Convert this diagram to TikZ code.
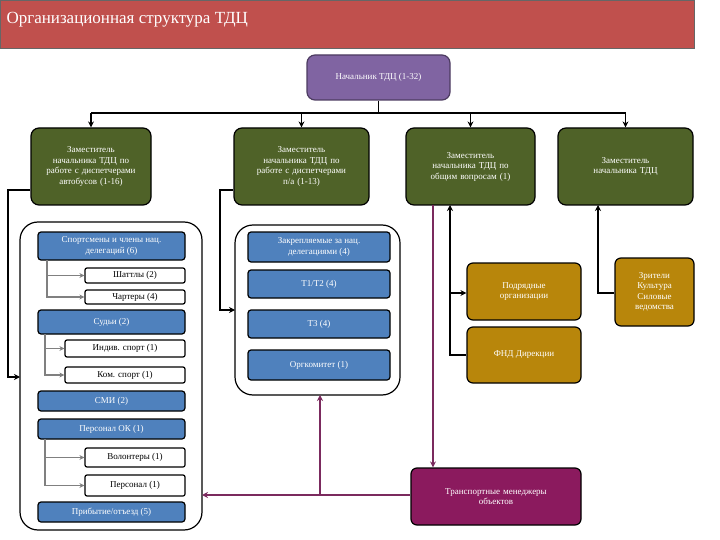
\documentclass[tikz,border=0pt]{standalone}
\usepackage{fontspec}
\setmainfont{Liberation Serif}
\usetikzlibrary{arrows.meta}
\definecolor{titl}{HTML}{C0504D}
\definecolor{boss}{HTML}{8064A2}
\definecolor{grn}{HTML}{4F6228}
\definecolor{blu}{HTML}{4F81BD}
\definecolor{gld}{HTML}{B8860B}
\definecolor{mag}{HTML}{8B1A5E}
\definecolor{plin}{HTML}{7B2A5E}
\begin{document}
\begin{tikzpicture}[x=1pt,y=-1pt,
 bx/.style={draw=black,line width=1.2pt,rounded corners=5pt,text=white,align=center,font=\fontsize{9}{10.5}\selectfont,inner sep=1pt},
 gb/.style={bx,fill=grn,rounded corners=8pt},
 bl/.style={bx,fill=blu,rounded corners=3pt},
 wh/.style={bx,fill=white,text=black,rounded corners=2pt},
 gd/.style={bx,fill=gld,rounded corners=6pt},
 cont/.style={draw=black,line width=1.2pt,rounded corners=18pt},
 ar/.style={line width=1.5pt,-{Stealth[length=6pt,width=6pt]}},
 gr/.style={draw=gray,line width=1.3pt,-{Stealth[length=5pt,width=5pt]}},
 pr/.style={draw=plin,line width=1.5pt,-{Stealth[length=6pt,width=6pt]}}]
\useasboundingbox (0,0) rectangle (720,540);
\fill[white] (0,0) rectangle (720,540);
\node[draw=black!60,fill=titl,minimum width=694pt,minimum height=48pt,anchor=north west,inner sep=0pt] (title) at (0,0) {};
\node[anchor=west,text=white,font=\fontsize{17}{20}\selectfont] (tt) at (3,20) {Организационная структура ТДЦ};
\node[bx,fill=boss,draw=boss!60!black,minimum width=143pt,minimum height=45pt,rounded corners=8pt] (boss) at (378.5,77.5) {Начальник ТДЦ (1-32)};
\node[gb,text width=118pt,minimum height=77pt] (g1) at (91,166.5) {Заместитель\\начальника ТДЦ по\\работе с диспетчерами\\автобусов (1-16)};
\node[gb,text width=133pt,minimum height=77pt] (g2) at (301.5,166.5) {Заместитель\\начальника ТДЦ по\\работе с диспетчерами\\п/а (1-13)};
\node[gb,text width=127pt,minimum height=77pt] (g3) at (470.5,166.5) {Заместитель\\начальника ТДЦ по\\общим вопросам (1)};
\node[gb,text width=133pt,minimum height=77pt] (g4) at (625.5,166.5) {Заместитель\\начальника ТДЦ};
\coordinate (top) at (378.5,113);
\draw[line width=1.5pt] (boss.south) -- (top);
\draw[line width=1.5pt] (91,113) -- (626,113);
\foreach \x/\n in {91/g1,301.5/g2,470.5/g3,625.5/g4}{\draw[ar] (\x,113) -- (\n.north -| \x,0);}
% containers
\draw[cont] (20,222) rectangle (202,530);
\draw[cont] (235,225) rectangle (400,395);
\coordinate (lc) at (20,377);
\coordinate (mc) at (235,310);
\draw[ar] (g1.west |- 0,190) -| (8,377) -- (lc);
\draw[ar] (g2.west |- 0,190) -| (220,310) -- (mc);
% left items
\node[bl,minimum width=147pt,minimum height=28pt] (s1) at (111.5,246) {Спортсмены и члены нац.\\делегаций (6)};
\node[wh,minimum width=100pt,minimum height=15pt] (w1) at (135,275.5) {Шаттлы (2)};
\node[wh,minimum width=100pt,minimum height=14pt] (w2) at (135,297) {Чартеры (4)};
\node[bl,minimum width=147pt,minimum height=24pt] (s2) at (111.5,322) {Судьи (2)};
\node[wh,minimum width=120pt,minimum height=17pt] (w3) at (125,348.5) {Индив. спорт (1)};
\node[wh,minimum width=120pt,minimum height=16pt] (w4) at (125,375) {Ком. спорт (1)};
\node[bl,minimum width=147pt,minimum height=20pt] (s3) at (111.5,401) {СМИ (2)};
\node[bl,minimum width=147pt,minimum height=20pt] (s4) at (111.5,429) {Персонал ОК (1)};
\node[wh,minimum width=100pt,minimum height=19pt] (w5) at (135,457.5) {Волонтеры (1)};
\node[wh,minimum width=100pt,minimum height=21pt] (w6) at (135,485.5) {Персонал (1)};
\node[bl,minimum width=147pt,minimum height=20pt] (s5) at (111.5,512) {Прибытие/отъезд (5)};
\draw[gr] (47,260) |- (w1.west);
\draw[gr] (47,260) |- (w2.west);
\draw[gr] (45,334) |- (w3.west);
\draw[gr] (45,334) |- (w4.west);
\draw[gr] (45,439) |- (w5.west);
\draw[gr] (45,439) |- (w6.west);
% middle items
\node[bl,minimum width=142pt,minimum height=30pt] (m1) at (319,247) {Закрепляемые за нац.\\делегациями (4)};
\node[bl,minimum width=142pt,minimum height=28pt] (m2) at (319,284) {Т1/Т2 (4)};
\node[bl,minimum width=142pt,minimum height=28pt] (m3) at (319,324) {Т3 (4)};
\node[bl,minimum width=142pt,minimum height=30pt] (m4) at (319,365) {Оргкомитет (1)};
% right
\node[gd,minimum width=114pt,minimum height=57pt,text width=110pt] (p1) at (524,291.5) {Подрядные\\организации};
\node[gd,minimum width=114pt,minimum height=56pt] (p2) at (524,355) {ФНД Дирекции};
\node[gd,minimum width=79pt,minimum height=68pt,text width=76pt] (p3) at (654.5,292) {Зрители\\Культура\\Силовые\\ведомства};
\node[bx,fill=mag,minimum width=170pt,minimum height=57pt,text width=160pt,rounded corners=6pt] (tr) at (496,496.5) {Транспортные менеджеры\\объектов};
\draw[ar,{Stealth[length=6pt,width=6pt]}-] (450,205) -- (450,355) -- (p2.west);
\draw[ar] (450,293) -- (p1.west |- 0,293);
\draw[ar,{Stealth[length=6pt,width=6pt]}-] (598,205) -- (598,293) -- (p3.west |- 0,293);
\draw[pr] (433,205) -- (tr.north -| 433,0);
\coordinate (jn) at (320,495);
\draw[pr,{Stealth[length=6pt,width=6pt]}-] (202,495) -- (tr.west |- jn);
\draw[pr,{Stealth[length=6pt,width=6pt]}-] (320,395) -- (jn);
\end{tikzpicture}
\end{document}
